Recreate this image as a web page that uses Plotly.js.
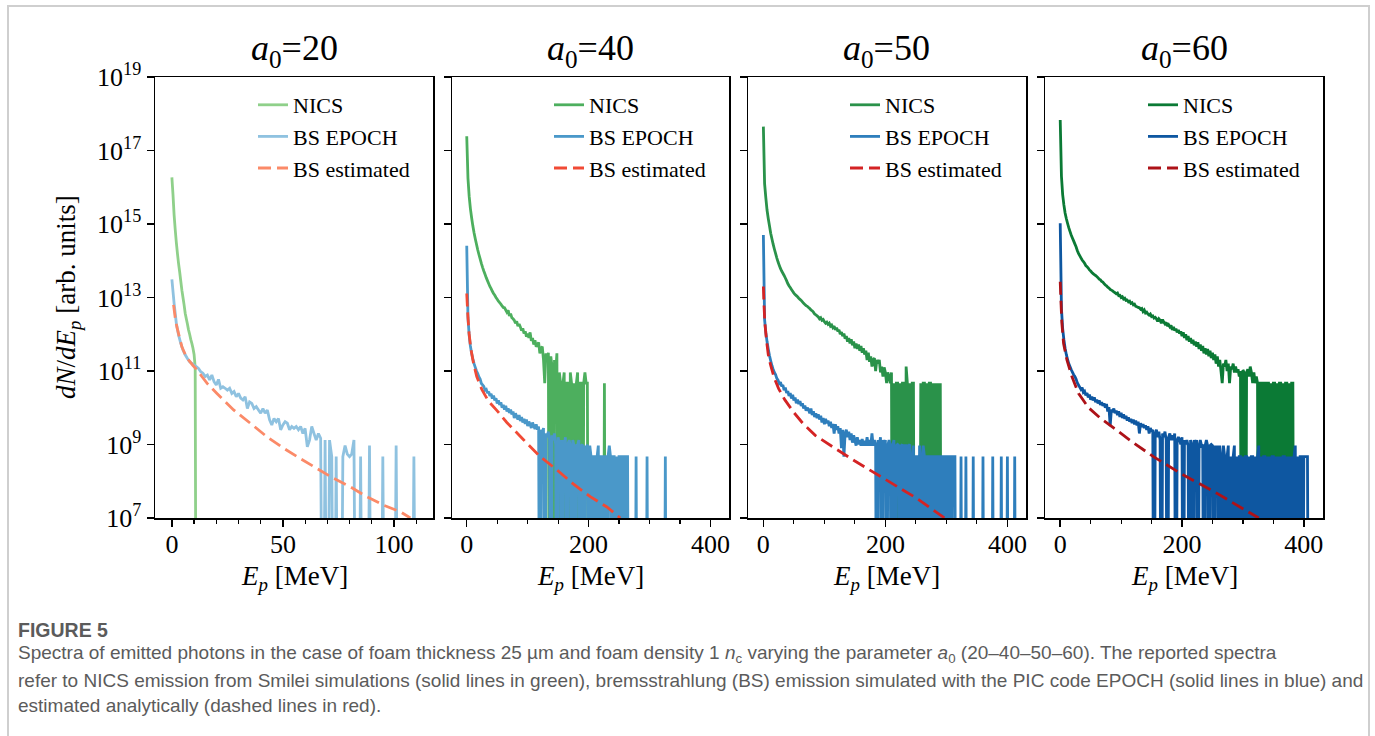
<!DOCTYPE html>
<html><head><meta charset="utf-8">
<script src="https://cdn.plot.ly/plotly-3.0.1.min.js"></script>
<style>html,body{margin:0;padding:0;background:#fff;} #chart{width:1375px;height:736px;}</style>
</head><body><div id="chart"></div>
<script>
// ---------- DATA (values are log10 of dN/dE_p; 0 marks an empty bin) ----------
const panelTitles = ["20", "40", "50", "60"];
const seriesNames = ["NICS", "BS EPOCH", "BS estimated"];
const yTickExps = [7, 9, 11, 13, 15, 17, 19];
const xTickLabels1 = [0, 50, 100];
const xTickLabels234 = [0, 200, 400];

// a0 = 20 : NICS (bins of 0.5 MeV from 0), BS EPOCH (bins of 1 MeV from 0)
const nics20Bin = 0.5;
const nics20 = [16.27, 15.8, 15.25, 14.85, 14.5, 14.2, 13.93, 13.7, 13.45, 13.2, 13.0, 12.8, 12.57, 12.42, 12.28, 12.12, 12.0, 11.86, 11.75, 11.62, 11.45, 11.1, 0];
const bs20Bin = 1;
const bs20 = [13.49, 12.84, 12.3, 11.98, 11.75, 11.57, 11.44, 11.34, 11.25, 11.21,
  11.16, 11.12, 11.07, 10.98, 10.94, 10.85, 10.89, 10.76, 10.89, 10.71,
  10.62, 10.77, 10.53, 10.57, 10.53, 10.48, 10.53, 10.39, 10.44, 10.3,
  10.39, 10.26, 10.21, 10.3, 9.98, 10.16, 10.12, 9.98, 10.03, 9.94,
  9.85, 9.98, 9.85, 9.94, 9.67, 9.53, 9.71, 9.62, 9.71, 9.4,
  9.53, 9.62, 9.58, 9.4, 9.49, 9.44, 9.49, 9.4, 9.49, 9.3,
  9.44, 8.94, 9.12, 9.49, 9.3, 9.12, 9.3, 9.17, 0, 9.12,
  0, 9.12, 8.67, 0, 8.67, 0, 0, 8.67, 8.97, 8.74,
  8.67, 8.74, 9.12, 0, 0, 8.67, 0, 0, 0, 8.97,
  0, 0, 0, 0, 0, 8.67, 0, 0, 0, 0,
  0, 8.97, 0, 0, 0, 0, 0, 0, 0, 8.67,
  0];
const est20E = [0.75, 1.5, 2.25, 3.5, 4.5, 6, 7.5, 9.5, 11.3, 13.5, 15.8, 20.3, 27.8, 35.3, 42.8, 50.3, 57.8, 65.3, 72.8, 80.3, 87.8, 95.3, 102.9, 107.4];
const est20 = [12.8, 12.45, 12.2, 11.9, 11.66, 11.45, 11.3, 11.15, 11.03, 10.85, 10.67, 10.39, 9.94, 9.58, 9.21, 8.9, 8.62, 8.35, 8.08, 7.85, 7.58, 7.35, 7.17, 7.0];

// a0 = 40, 50, 60 : bins of 2 MeV from 0
const bin2 = 2;
const nics40 = [17.39, 16.25, 15.75, 15.42, 15.17, 14.95, 14.76, 14.6, 14.45, 14.3,
  14.17, 14.05, 13.93, 13.82, 13.72, 13.63, 13.54, 13.46, 13.38, 13.3,
  13.24, 13.17, 13.11, 13.06, 13.0, 12.95, 12.9, 12.86, 12.82, 12.77,
  12.73, 12.72, 12.66, 12.6, 12.65, 12.5, 12.56, 12.45, 12.42, 12.38,
  12.3, 12.35, 12.22, 12.28, 12.2, 12.1, 12.16, 12.02, 12.08, 11.93,
  12.02, 11.9, 12.05, 11.82, 11.9, 11.72, 11.84, 11.66, 11.72, 11.78,
  11.48, 11.62, 11.66, 11.3, 10.67, 11.48, 11.3, 11.5, 0, 11.4,
  11.12, 0, 11.3, 10.96, 11.48, 0, 10.96, 10.67, 0, 10.67,
  10.96, 0, 10.67, 10.67, 0, 10.96, 10.67, 0, 10.67, 0,
  10.67, 10.96, 0, 10.67, 10.67, 0, 10.67, 10.96, 10.67, 10.67,
  0, 0, 0, 0, 0, 0, 0, 0, 0, 0,
  0, 0, 0, 10.67, 0];
const bs40 = [14.41, 12.45, 11.97, 11.68, 11.48, 11.33, 11.2, 11.1, 11.0, 10.93,
  10.84, 10.78, 10.66, 10.62, 10.58, 10.48, 10.5, 10.4, 10.44, 10.32,
  10.38, 10.25, 10.33, 10.2, 10.26, 10.12, 10.2, 10.08, 10.15, 10.0,
  10.08, 9.95, 10.05, 9.9, 9.98, 9.86, 9.95, 9.82, 9.9, 9.72,
  9.85, 9.76, 9.68, 9.8, 9.64, 9.75, 9.6, 9.7, 9.56, 9.68,
  9.5, 9.62, 9.55, 9.45, 9.6, 9.5, 9.42, 9.55, 9.4, 9.49,
  0, 9.4, 9.3, 9.45, 0, 9.3, 9.2, 9.35, 9.12, 0,
  9.25, 9.12, 9.3, 9.0, 0, 9.2, 9.0, 9.12, 0, 9.12,
  8.97, 9.2, 0, 9.0, 9.12, 8.97, 0, 9.12, 8.97, 0,
  9.0, 8.97, 9.12, 0, 8.97, 9.0, 0, 8.97, 8.67, 9.0,
  0, 8.97, 8.67, 0, 8.67, 8.67, 0, 8.67, 8.97, 0,
  8.67, 8.67, 0, 8.67, 8.67, 0, 8.67, 8.97, 8.67, 0,
  8.67, 8.67, 0, 8.67, 0, 8.67, 8.67, 0, 8.67, 8.67,
  0, 8.67, 8.67, 0, 0, 0, 0, 0, 0, 8.67,
  0, 0, 0, 0, 0, 0, 0, 0, 8.67, 0,
  0, 0, 0, 0, 0, 0, 0, 0, 0, 0,
  0, 0, 0, 8.67, 0];
const est40E = [0, 1.6, 3.8, 6.6, 11, 16.4, 24.7, 35.6, 49.3, 65.8, 93.2, 120.6, 148, 175.4, 202.8, 230, 252];
const est40 = [13.11, 12.57, 12.03, 11.62, 11.22, 10.85, 10.5, 10.18, 9.93, 9.6, 9.13, 8.67, 8.31, 7.92, 7.58, 7.3, 7.0];

const nics50 = [17.65, 16.1, 15.72, 15.38, 15.15, 14.95, 14.75, 14.6, 14.45, 14.32,
  14.2, 14.08, 13.97, 13.88, 13.79, 13.72, 13.66, 13.6, 13.53, 13.46,
  13.38, 13.32, 13.27, 13.22, 13.17, 13.12, 13.08, 13.05, 13.02, 12.98,
  12.95, 12.92, 12.88, 12.84, 12.81, 12.78, 12.76, 12.73, 12.7, 12.66,
  12.64, 12.6, 12.55, 12.53, 12.5, 12.47, 12.42, 12.45, 12.38, 12.4,
  12.34, 12.3, 12.33, 12.27, 12.3, 12.22, 12.25, 12.18, 12.22, 12.12,
  12.18, 12.08, 12.12, 12.0, 12.06, 11.95, 12.02, 11.88, 11.95, 11.8,
  11.9, 11.75, 11.86, 11.7, 11.8, 11.62, 11.75, 11.6, 11.72, 11.55,
  11.68, 11.5, 11.62, 11.45, 11.55, 11.3, 11.5, 11.25, 11.4, 11.12,
  11.3, 11.35, 11.0, 11.3, 11.2, 11.3, 10.96, 11.12, 10.85, 11.1,
  10.96, 10.67, 10.96, 10.85, 10.67, 10.96, 0, 10.67, 0, 10.67,
  10.67, 0, 10.67, 0, 10.67, 10.67, 0, 11.12, 10.67, 0,
  10.67, 0, 10.67, 10.67, 0, 0, 0, 0, 0, 10.67,
  0, 10.67, 10.67, 0, 10.67, 0, 10.67, 10.67, 0, 10.67,
  0, 10.67, 0, 10.67, 0, 10.67, 0];
const bs50 = [14.7, 12.4, 12.05, 11.8, 11.6, 11.42, 11.28, 11.15, 11.05, 10.96,
  10.9, 10.8, 10.75, 10.66, 10.7, 10.58, 10.62, 10.48, 10.55, 10.4,
  10.45, 10.32, 10.4, 10.25, 10.35, 10.2, 10.28, 10.12, 10.22, 10.1,
  10.18, 10.05, 10.12, 9.98, 10.06, 9.92, 10.0, 9.95, 9.85, 9.98,
  9.8, 9.9, 9.75, 9.85, 9.72, 9.82, 9.68, 9.78, 9.6, 9.72,
  9.55, 9.7, 9.58, 9.65, 9.5, 9.62, 9.45, 9.56, 9.3, 9.55,
  9.4, 9.5, 9.3, 9.45, 8.9, 9.4, 8.67, 9.3, 9.4, 9.2,
  9.35, 9.12, 9.3, 9.05, 9.25, 9.12, 8.97, 9.2, 9.0, 9.12,
  8.97, 9.15, 8.97, 9.1, 8.97, 9.2, 8.97, 9.12, 8.97, 9.3,
  8.97, 9.12, 9.0, 0, 9.12, 8.97, 9.2, 0, 9.12, 8.97,
  9.12, 0, 8.97, 9.12, 9.0, 0, 8.97, 9.12, 0, 8.97,
  9.0, 8.97, 0, 8.97, 9.0, 0, 8.97, 8.97, 0, 8.97,
  9.0, 0, 8.67, 8.97, 0, 8.67, 8.67, 0, 8.97, 8.67,
  0, 8.97, 8.67, 0, 8.67, 8.67, 0, 8.67, 8.67, 0,
  8.67, 8.67, 0, 8.67, 8.67, 0, 8.67, 8.67, 0, 8.67,
  8.67, 0, 8.67, 8.67, 0, 8.67, 8.67, 8.67, 0, 0,
  0, 0, 8.67, 0, 0, 0, 8.67, 0, 0, 0,
  0, 0, 8.67, 0, 0, 0, 0, 0, 0, 0,
  8.67, 0, 0, 0, 0, 0, 0, 0, 8.67, 0,
  0, 0, 0, 0, 0, 8.67, 0, 0, 0, 0,
  8.67, 0, 0, 0, 0, 0, 8.67, 0];
const est50E = [0, 1, 2.5, 5, 8, 12, 18, 25, 35, 50, 65, 85, 117, 150, 200, 250, 297];
const est50 = [13.3, 12.8, 12.3, 11.85, 11.45, 11.15, 10.8, 10.52, 10.22, 9.87, 9.57, 9.25, 8.9, 8.55, 8.05, 7.55, 7.0];

const nics60 = [17.83, 16.3, 15.8, 15.52, 15.3, 15.15, 15.02, 14.9, 14.8, 14.7,
  14.62, 14.54, 14.46, 14.38, 14.28, 14.2, 14.14, 14.08, 14.02, 13.98,
  13.93, 13.87, 13.84, 13.8, 13.75, 13.72, 13.68, 13.65, 13.62, 13.6,
  13.57, 13.54, 13.5, 13.48, 13.44, 13.42, 13.38, 13.34, 13.32, 13.28,
  13.26, 13.22, 13.2, 13.18, 13.15, 13.13, 13.1, 13.12, 13.05, 13.06,
  13.0, 13.02, 12.96, 12.98, 12.92, 12.93, 12.88, 12.9, 12.84, 12.86,
  12.8, 12.82, 12.76, 12.75, 12.73, 12.72, 12.68, 12.7, 12.62, 12.66,
  12.58, 12.6, 12.55, 12.52, 12.55, 12.48, 12.5, 12.44, 12.46, 12.42,
  12.35, 12.42, 12.38, 12.3, 12.4, 12.33, 12.28, 12.32, 12.22, 12.26,
  12.2, 12.24, 12.12, 12.2, 12.1, 12.15, 12.05, 12.12, 12.02, 12.08,
  11.95, 12.05, 11.9, 12.0, 11.84, 11.95, 11.8, 11.9, 11.75, 11.85,
  11.7, 11.8, 11.66, 11.78, 11.6, 11.72, 11.55, 11.68, 11.48, 11.62,
  11.45, 11.6, 11.4, 11.55, 11.35, 11.5, 11.3, 11.45, 11.2, 11.4,
  11.12, 11.3, 11.0, 10.67, 11.2, 11.12, 11.3, 11.0, 11.2, 10.67,
  11.12, 11.05, 11.2, 10.96, 11.12, 10.96, 11.05, 10.85, 11.0, 0,
  11.03, 10.96, 0, 10.96, 11.05, 10.85, 11.12, 10.96, 10.67, 10.96,
  10.67, 10.85, 10.67, 0, 10.67, 10.67, 0, 10.67, 10.67, 0,
  10.67, 10.67, 0, 10.67, 0, 10.67, 10.67, 0, 10.67, 0,
  10.67, 10.67, 0, 10.67, 0, 10.67, 10.67, 0, 10.67, 0,
  10.67, 10.67, 0];
const bs60 = [15.02, 12.7, 12.15, 11.85, 11.62, 11.45, 11.32, 11.2, 11.12, 11.04,
  10.97, 10.9, 10.85, 10.78, 10.68, 10.62, 10.56, 10.5, 10.55, 10.42,
  10.45, 10.34, 10.4, 10.28, 10.36, 10.22, 10.3, 10.2, 10.28, 10.15,
  10.22, 10.12, 10.2, 10.08, 10.15, 10.05, 10.12, 10.0, 10.1, 9.9,
  10.02, 9.5, 9.95, 9.88, 9.98, 9.85, 9.92, 9.8, 9.9, 9.75,
  9.86, 9.72, 9.82, 9.7, 9.78, 9.65, 9.74, 9.62, 9.7, 9.58,
  9.68, 9.55, 9.65, 9.52, 9.62, 9.3, 9.58, 9.48, 9.55, 9.45,
  9.52, 9.4, 9.5, 9.3, 9.45, 9.35, 9.4, 0, 9.3, 9.4,
  9.2, 9.35, 9.12, 0, 9.3, 9.2, 9.35, 9.12, 0, 9.2,
  9.3, 9.12, 9.25, 9.12, 9.3, 0, 9.12, 9.2, 9.12, 9.0,
  9.2, 0, 9.12, 9.0, 9.12, 8.97, 0, 9.12, 9.0, 0,
  9.12, 8.97, 9.12, 0, 8.97, 9.12, 8.97, 9.0, 0, 8.97,
  9.12, 8.97, 0, 8.97, 9.0, 8.97, 0, 8.97, 8.67, 8.97,
  0, 8.97, 8.67, 0, 8.97, 8.67, 0, 8.67, 8.97, 0,
  8.67, 0, 8.67, 8.97, 0, 8.67, 0, 8.67, 8.67, 0,
  8.67, 0, 8.67, 8.67, 0, 8.67, 0, 8.67, 8.67, 0,
  8.67, 0, 8.67, 8.97, 0, 8.67, 0, 8.67, 8.67, 0,
  8.67, 0, 8.67, 0, 8.67, 8.67, 0, 8.67, 0, 8.67,
  0, 8.67, 0, 8.67, 8.67, 0, 8.67, 0, 8.67, 0,
  8.67, 0, 8.67, 8.97, 0, 8.67, 0, 8.67, 8.67, 0,
  8.67, 8.67, 8.67, 8.67, 0];
const est60E = [0, 1.1, 2.7, 5.5, 11, 19.2, 30, 46.6, 65.7, 87.7, 120, 153, 197, 257.5, 300, 326];
const est60 = [13.43, 12.93, 12.3, 11.75, 11.3, 10.85, 10.39, 10.0, 9.72, 9.45, 9.05, 8.67, 8.22, 7.67, 7.25, 7.0];

// ---------- STYLE ----------
const colors = [
  {g: '#8fd08a', b: '#8fc2e0', r: '#fb8a68'},
  {g: '#4daf5e', b: '#4a98c9', r: '#f14a35'},
  {g: '#2a924a', b: '#2e7ebc', r: '#d42324'},
  {g: '#0b7a35', b: '#0e57a1', r: '#ad1218'}
];
const W = 1375, H = 736;
const px = v => v / W, py = v => (H - v) / H;
const serif = 'Liberation Serif, Times New Roman, serif';
const panelsPx = [[155, 433], [452, 729], [748, 1026], [1045, 1323]];
const plotTop = 77, plotBottom = 518;
const xRanges = [[-7.6, 117.6], [-24.2, 430.5], [-25.2, 430.5], [-25, 431.5]];
const legendX = [253, 549, 845, 1143];

const lin = a => a.map(v => Math.pow(10, v));
const hist = [
  [{y: nics20, dx: nics20Bin}, {y: bs20, dx: bs20Bin}, {x: est20E, y: est20}],
  [{y: nics40, dx: bin2}, {y: bs40, dx: bin2}, {x: est40E, y: est40}],
  [{y: nics50, dx: bin2}, {y: bs50, dx: bin2}, {x: est50E, y: est50}],
  [{y: nics60, dx: bin2}, {y: bs60, dx: bin2}, {x: est60E, y: est60}]
];

const traces = [];
hist.forEach((p, i) => {
  const sfx = i === 0 ? '' : String(i + 1);
  const cols = [colors[i].g, colors[i].b, colors[i].r];
  p.forEach((s, k) => {
    const t = {
      type: 'scatter', mode: 'lines', name: seriesNames[k],
      xaxis: 'x' + sfx, yaxis: 'y' + sfx,
      legend: 'legend' + sfx,
      y: lin(s.y),
      line: {color: cols[k], width: 2.8, simplify: false, dash: k === 2 ? '13px,6px' : 'solid'},
      hoverinfo: 'skip'
    };
    if (s.x) { t.x = s.x; } else { t.x0 = 0; t.dx = s.dx; }
    traces.push(t);
  });
});

const layout = {
  width: W, height: H,
  margin: {l: 0, r: 0, t: 0, b: 0},
  paper_bgcolor: '#fff', plot_bgcolor: '#fff',
  hovermode: false,
  font: {family: serif, size: 22, color: '#000'},
  annotations: [],
  shapes: [{type: 'rect', xref: 'paper', yref: 'paper', x0: px(8), x1: px(1369), y0: -0.05, y1: py(6),
    line: {color: '#cfcfcf', width: 2}, layer: 'below'}]
};

panelsPx.forEach((d, i) => {
  const sfx = i === 0 ? '' : String(i + 1);
  const first = i === 0;
  layout['xaxis' + sfx] = {
    domain: [px(d[0]), px(d[1])], anchor: 'y' + sfx, range: xRanges[i],
    tickvals: first ? xTickLabels1 : xTickLabels234,
    ticktext: (first ? xTickLabels1 : xTickLabels234).map(String),
    ticks: 'outside', ticklen: 7, tickwidth: 1.5, tickcolor: '#000',
    ticklabelstandoff: -5,
    showline: true, mirror: true, linecolor: '#000', linewidth: 1.5,
    showgrid: false, zeroline: false, fixedrange: true,
    tickfont: {family: serif, size: 26, color: '#000'},
    minor: {dtick: first ? 10 : 50, tick0: 0, ticks: 'outside', ticklen: 4, tickwidth: 1.2, tickcolor: '#000', showgrid: false}
  };
  layout['yaxis' + sfx] = {
    domain: [py(plotBottom), py(plotTop)], anchor: 'x' + sfx, type: 'log', range: [7, 19],
    tickvals: yTickExps.map(e => Math.pow(10, e)),
    ticktext: yTickExps.map(e => '10<sup>' + e + '</sup>'),
    showticklabels: first,
    ticks: 'outside', ticklen: 7, tickwidth: 1.5, tickcolor: '#000',
    showline: true, mirror: true, linecolor: '#000', linewidth: 1.5,
    showgrid: false, zeroline: false, fixedrange: true,
    tickfont: {family: serif, size: 26, color: '#000'}
  };
  layout['legend' + sfx] = {
    x: px(legendX[i]), y: py(84), xanchor: 'left', yanchor: 'top',
    bgcolor: 'rgba(0,0,0,0)', borderwidth: 0,
    font: {family: serif, size: 22, color: '#000'}
  };
  const cx = px((d[0] + d[1]) / 2);
  layout.annotations.push({
    xref: 'paper', yref: 'paper', x: cx, y: py(50), xanchor: 'center', yanchor: 'middle', showarrow: false,
    text: '<i>a</i><sub>0</sub>=' + panelTitles[i], font: {family: serif, size: 36, color: '#000'}
  });
  layout.annotations.push({
    xref: 'paper', yref: 'paper', x: cx, y: py(578), xanchor: 'center', yanchor: 'middle', showarrow: false,
    text: '<i>E<sub>p</sub></i> [MeV]', font: {family: serif, size: 27, color: '#000'}
  });
});

layout.annotations.push({
  xref: 'paper', yref: 'paper', x: px(68), y: py(297), xanchor: 'center', yanchor: 'middle', showarrow: false,
  textangle: -90, text: '<i>dN</i>/<i>dE<sub>p</sub></i> [arb. units]', font: {family: serif, size: 27, color: '#000'}
});

const capFont = 'Liberation Sans, Arial, sans-serif';
const captionLines = [
  'Spectra of emitted photons in the case of foam thickness 25 µm and foam density 1 <i>n</i><sub>c</sub> varying the parameter <i>a</i><sub>0</sub> (20–40–50–60). The reported spectra',
  'refer to NICS emission from Smilei simulations (solid lines in green), bremsstrahlung (BS) emission simulated with the PIC code EPOCH (solid lines in blue) and',
  'estimated analytically (dashed lines in red).'
];
layout.annotations.push({
  xref: 'paper', yref: 'paper', x: px(16), y: py(630), xanchor: 'left', yanchor: 'middle', showarrow: false,
  text: '<b>FIGURE 5</b>', font: {family: capFont, size: 19.5, color: '#5b5b5b'}
});
[654, 680, 705].forEach((yy, j) => {
  layout.annotations.push({
    xref: 'paper', yref: 'paper', x: px(16), y: py(yy), xanchor: 'left', yanchor: 'middle', showarrow: false, align: 'left',
    text: captionLines[j], font: {family: capFont, size: 19, color: '#5b5b5b'}
  });
});

Plotly.newPlot('chart', traces, layout, {staticPlot: true, displayModeBar: false});
</script></body></html>
